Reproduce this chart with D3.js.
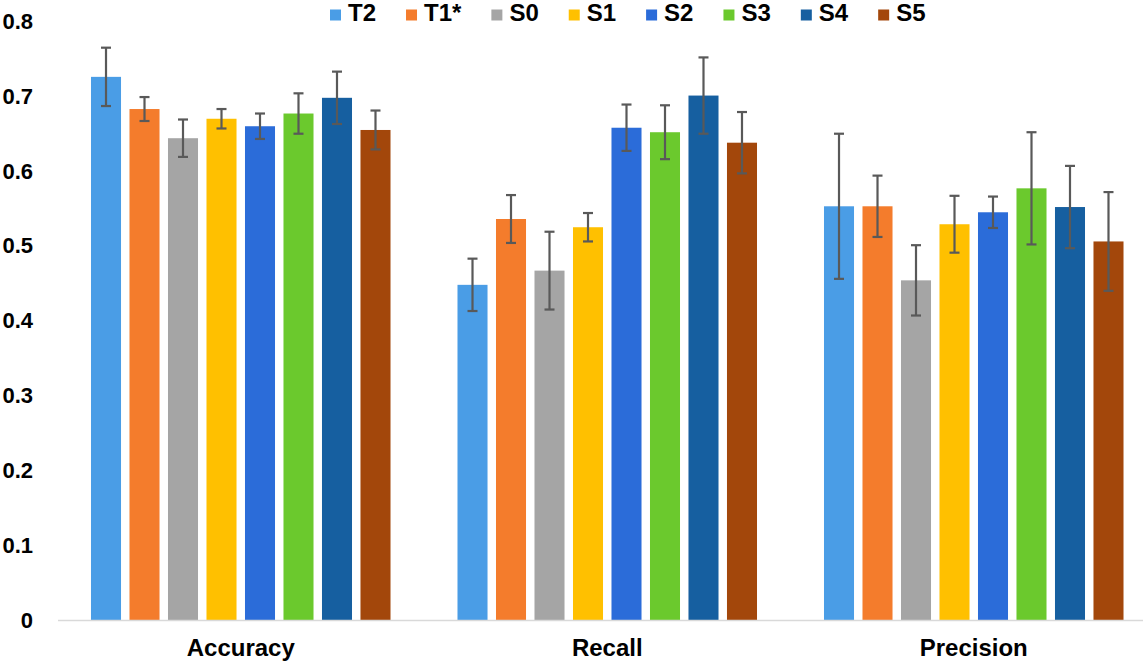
<!DOCTYPE html>
<html>
<head>
<meta charset="utf-8">
<script src="https://cdn.jsdelivr.net/npm/d3@7"></script>
<style>
  html, body { margin: 0; padding: 0; background: #fff; }
  svg { display: block; font-family: "Liberation Sans", Arial, sans-serif; font-weight: bold; }
</style>
</head>
<body>
<svg id="chart" width="1143" height="664"></svg>
<script>
// ---- data ----
const categories = ["Accuracy", "Recall", "Precision"];
const series = ["T2", "T1*", "S0", "S1", "S2", "S3", "S4", "S5"];
const seriesColors = ["#4A9DE6", "#F47C2C", "#A5A5A5", "#FFC000", "#2B6CD9", "#6BC92D", "#165FA0", "#A3470B"];

const accuracyMean  = [0.726, 0.683, 0.644, 0.670, 0.660, 0.677, 0.698, 0.655];
const accuracyErr   = [0.039, 0.016, 0.025, 0.013, 0.017, 0.027, 0.035, 0.026];
const recallMean    = [0.448, 0.536, 0.467, 0.525, 0.658, 0.652, 0.701, 0.638];
const recallErr     = [0.035, 0.032, 0.052, 0.019, 0.031, 0.036, 0.051, 0.041];
const precisionMean = [0.553, 0.553, 0.454, 0.529, 0.545, 0.577, 0.552, 0.506];
const precisionErr  = [0.097, 0.041, 0.047, 0.038, 0.021, 0.075, 0.055, 0.066];

const yTicks = [0, 0.1, 0.2, 0.3, 0.4, 0.5, 0.6, 0.7, 0.8];

const means = [accuracyMean, recallMean, precisionMean];
const errs = [accuracyErr, recallErr, precisionErr];
const rows = [];
categories.forEach((c, ci) => series.forEach((s, si) => {
  rows.push({ cat: c, ser: s, v: means[ci][si], e: errs[ci][si], color: seriesColors[si] });
}));

// ---- layout ----
const svg = d3.select("#chart");
const W = 1143, H = 664;
const y0px = 620, yTopPx = 21.5;

const x0 = d3.scaleBand().domain(categories).range([57.5, 1157]).paddingInner(0).paddingOuter(0);
const x1 = d3.scaleBand().domain(series).range([0, x0.bandwidth()]).paddingInner(0.22).paddingOuter(0.87);
const y = d3.scaleLinear().domain([0, 0.8]).range([y0px, yTopPx]);

// bars
svg.append("g").selectAll("rect").data(rows).join("rect")
  .attr("x", d => x0(d.cat) + x1(d.ser))
  .attr("y", d => y(d.v))
  .attr("width", x1.bandwidth())
  .attr("height", d => y(0) - y(d.v))
  .attr("fill", d => d.color);

// x axis (baseline + labels)
const xAxis = svg.append("g").attr("transform", `translate(0,${y0px})`)
  .call(d3.axisBottom(x0).tickSize(0).tickPadding(19).tickSizeOuter(0));
xAxis.select(".domain").attr("stroke", "#D9D9D9").attr("stroke-width", 1.5);
xAxis.selectAll("text").attr("font-size", 24).attr("font-family", "'Liberation Sans', Arial, sans-serif")
  .attr("font-weight", "bold").attr("fill", "#000");

// error bars
const eg = svg.append("g").attr("stroke", "#595959").attr("stroke-width", 2.2).attr("fill", "none");
rows.forEach(d => {
  const cx = x0(d.cat) + x1(d.ser) + x1.bandwidth() / 2;
  const yt = y(d.v + d.e), yb = y(d.v - d.e);
  eg.append("line").attr("x1", cx).attr("x2", cx).attr("y1", yt).attr("y2", yb);
  eg.append("line").attr("x1", cx - 5).attr("x2", cx + 5).attr("y1", yt).attr("y2", yt);
  eg.append("line").attr("x1", cx - 5).attr("x2", cx + 5).attr("y1", yb).attr("y2", yb);
});

// y axis labels
const yAxis = svg.append("g").attr("transform", `translate(33,0)`)
  .call(d3.axisLeft(y).tickValues(yTicks).tickSize(0).tickPadding(0)
    .tickFormat(d => d === 0 ? "0" : d3.format(".1f")(d)));
yAxis.select(".domain").remove();
yAxis.selectAll("text").attr("font-size", 22).attr("font-family", "'Liberation Sans', Arial, sans-serif")
  .attr("font-weight", "bold").attr("fill", "#000");

// legend
const legend = svg.append("g");
let lx = 330;
series.forEach((s, i) => {
  const g = legend.append("g").attr("transform", `translate(${lx},0)`);
  g.append("rect").attr("x", 0).attr("y", 9.5).attr("width", 11).attr("height", 11).attr("fill", seriesColors[i]);
  const t = g.append("text").attr("x", 18).attr("y", 20.7).attr("font-size", 24).attr("fill", "#000").text(s);
  lx += 18 + t.node().getComputedTextLength() + 30;
});
</script>
</body>
</html>
